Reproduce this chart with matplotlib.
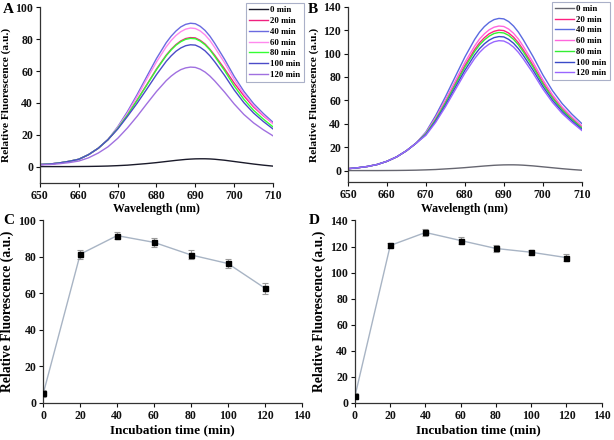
import matplotlib
matplotlib.use("Agg")
import matplotlib.pyplot as plt

plt.rcParams['font.family'] = ['Liberation Serif', 'DejaVu Serif']
plt.rcParams['font.weight'] = 'bold'
plt.rcParams['axes.labelweight'] = 'bold'

# ---------------- data ----------------
wavelength = [650, 652.5, 655, 657.5, 660, 662.5, 665, 667.5, 670, 672.5, 675, 677.5,
              680, 682.5, 683.75, 685, 686.25, 687.5, 688.75, 690, 691.25, 692.5, 693.75,
              695, 697.5, 700, 702.5, 705, 707.5, 710]
series_labels = ['0 min', '20 min', '40 min', '60 min', '80 min', '100 min', '120 min']

# Panel A spectra
a_0 = [0.1, 0.1, 0.1, 0.1, 0.15, 0.2, 0.3, 0.45, 0.7, 1.0, 1.5, 2.0,
       2.6, 3.3, 3.65, 4.0, 4.3, 4.6, 4.8, 4.95, 5.0, 5.0, 4.9,
       4.7, 4.1, 3.3, 2.5, 1.7, 1.0, 0.4]
a_20 = [1.4, 1.7, 2.4, 3.4, 4.7, 7.6, 11.6, 17.0, 24.0, 32.5, 41.8, 51.5,
        61.3, 70.0, 73.6, 76.6, 78.9, 80.4, 81.0, 80.8, 79.3, 77.0, 73.7,
        69.9, 61.5, 52.5, 44.5, 37.5, 32.0, 27.2]
a_40 = [1.4, 1.7, 2.4, 3.4, 4.7, 7.6, 11.6, 17.0, 25.0, 34.5, 45.2, 56.6,
        67.9, 77.8, 81.8, 85.1, 87.7, 89.3, 90.0, 89.7, 88.1, 85.5, 81.9,
        77.4, 67.5, 56.7, 47.3, 39.6, 33.4, 27.9]
a_60 = [1.4, 1.7, 2.4, 3.4, 4.7, 7.6, 11.6, 17.0, 24.6, 33.6, 44.0, 55.0,
        65.7, 75.2, 79.1, 82.3, 84.7, 86.3, 87.0, 86.7, 85.2, 82.7, 79.2,
        74.8, 65.3, 54.8, 45.7, 38.3, 32.3, 27.0]
a_80 = [1.4, 1.7, 2.4, 3.4, 4.7, 7.6, 11.6, 17.0, 24.0, 32.4, 41.6, 51.2,
        60.9, 69.6, 73.2, 76.2, 78.4, 79.9, 80.5, 80.3, 78.8, 76.5, 73.3,
        69.2, 60.4, 50.7, 42.3, 35.4, 29.9, 25.0]
a_100 = [1.4, 1.7, 2.4, 3.4, 4.7, 7.6, 11.6, 17.0, 23.6, 31.5, 39.8, 48.7,
         57.8, 66.1, 69.5, 72.4, 74.5, 75.9, 76.5, 76.3, 74.9, 72.7, 69.6,
         65.8, 57.4, 48.2, 40.2, 33.7, 28.4, 23.7]
a_120 = [1.2, 1.4, 1.9, 2.6, 3.6, 5.6, 8.6, 12.5, 17.8, 24.3, 31.6, 39.5,
         47.2, 54.0, 56.8, 59.1, 60.9, 62.0, 62.5, 62.3, 61.2, 59.4, 56.9,
         53.8, 46.9, 39.4, 32.8, 27.5, 23.2, 19.4]

# Panel B spectra
b_0 = [0.1, 0.1, 0.1, 0.1, 0.15, 0.2, 0.3, 0.45, 0.7, 1.0, 1.5, 2.0,
       2.6, 3.3, 3.65, 4.0, 4.3, 4.6, 4.8, 4.95, 5.0, 5.0, 4.9,
       4.7, 4.1, 3.3, 2.5, 1.7, 1.0, 0.4]
b_20 = [1.7, 2.5, 3.6, 5.3, 8.0, 11.8, 17.0, 23.5, 31.8, 44.3, 58.6, 74.2,
        89.8, 103.4, 109.1, 113.5, 116.9, 119.0, 120.0, 119.6, 117.5, 114.0, 109.2,
        103.2, 90.0, 75.6, 63.0, 52.8, 44.5, 37.2]
b_40 = [1.7, 2.5, 3.6, 5.3, 8.0, 11.8, 17.0, 23.5, 33.0, 47.0, 63.0, 80.0,
        97.0, 112.0, 118.2, 123.0, 126.6, 129.0, 130.0, 129.6, 127.3, 123.5, 118.3,
        111.8, 97.5, 81.9, 68.3, 57.2, 48.2, 40.3]
b_60 = [1.7, 2.5, 3.6, 5.3, 8.0, 11.8, 17.0, 23.5, 32.3, 45.2, 60.2, 76.3,
        92.4, 106.4, 112.3, 116.8, 120.3, 122.5, 123.5, 123.1, 120.9, 117.3, 112.4,
        106.2, 92.6, 77.8, 64.8, 54.3, 45.8, 38.3]
b_80 = [1.7, 2.5, 3.6, 5.3, 8.0, 11.8, 17.0, 23.5, 31.5, 43.6, 57.7, 73.0,
        88.3, 101.7, 107.3, 111.6, 114.9, 117.1, 118.0, 117.6, 115.5, 112.1, 107.4,
        101.5, 88.5, 74.3, 62.0, 51.9, 43.8, 36.6]
b_100 = [1.7, 2.5, 3.6, 5.3, 8.0, 11.8, 17.0, 23.5, 30.8, 42.4, 56.0, 70.9,
         85.7, 98.7, 104.1, 108.3, 111.5, 113.6, 114.5, 114.2, 112.1, 108.8, 104.2,
         98.5, 85.9, 72.1, 60.1, 50.4, 42.5, 35.5]
b_120 = [1.7, 2.5, 3.6, 5.3, 8.0, 11.8, 17.0, 23.5, 30.2, 41.2, 54.4, 68.8,
         83.2, 95.7, 100.9, 105.0, 108.1, 110.1, 111.0, 110.7, 108.7, 105.5, 101.0,
         95.5, 83.3, 69.9, 58.3, 48.8, 41.2, 34.4]

# Panels C and D
time_min = [0, 20, 40, 60, 80, 100, 120]
c_mean = [5.1, 81.5, 91.7, 88.0, 81.1, 76.4, 62.9]
c_err = [2.0, 2.5, 2.0, 2.5, 2.5, 2.5, 3.0]
d_mean = [5.1, 120.8, 130.8, 124.6, 118.5, 115.6, 111.5]
d_err = [2.0, 2.0, 3.0, 2.5, 3.0, 2.0, 3.0]

spec_xticks = [650, 660, 670, 680, 690, 700, 710]
time_xticks = [0, 20, 40, 60, 80, 100, 120, 140]

colors_a = ['#1A1A2A', '#F0207F', '#6A6AE0', '#FF88EE', '#33FF33', '#4B4BC8', '#A070E0']
colors_b = ['#666670', '#FF2080', '#5A6AE0', '#FF66DD', '#33EE33', '#3A4AC8', '#9966FF']

# ---------------- figure ----------------
W, H = 614, 440
fig = plt.figure(figsize=(W / 100, H / 100), dpi=100)

def fx(px):
    return px / W

def fy(py):
    return 1 - py / H

def style_axes(ax, fs=8):
    ax.spines['top'].set_visible(False)
    ax.spines['right'].set_visible(False)
    for s in ('left', 'bottom'):
        ax.spines[s].set_linewidth(0.9)
        ax.spines[s].set_color('#333333')
    ax.tick_params(direction='out', length=3, width=0.8, labelsize=fs, pad=2, colors='#111111')
    for lab in ax.get_xticklabels() + ax.get_yticklabels():
        lab.set_fontweight('bold')

def spectra_panel(rect, data, colors, ymax, yticks, legend_anchor, letter, letter_pos):
    ax = fig.add_axes(rect)
    for y, c, lab in zip(data, colors, series_labels):
        ax.plot(wavelength, y, color=c, lw=1.0, label=lab)
    ax.set_xlim(650, 710)
    ax.set_ylim(-10, ymax)
    ax.set_xticks(spec_xticks)
    ax.set_yticks(yticks)
    style_axes(ax, 8.5)
    ax.set_xlabel('Wavelength (nm)', fontsize=8.5, fontweight='bold', labelpad=1)
    ax.set_ylabel('Relative Fluorescence (a.u.)', fontsize=8.2, fontweight='bold', labelpad=3)
    leg = ax.legend(loc='upper left', bbox_to_anchor=legend_anchor, bbox_transform=fig.transFigure,
                    prop={'family': 'Liberation Serif', 'weight': 'bold', 'size': 6.3},
                    frameon=True, fancybox=False, edgecolor='#AAB0C8', framealpha=1,
                    handlelength=2.2, handletextpad=0.3, labelspacing=0.3, borderpad=0.35,
                    borderaxespad=0)
    leg.get_frame().set_linewidth(0.8)
    fig.text(letter_pos[0], letter_pos[1], letter, fontsize=11, fontweight='bold',
             family='Liberation Serif', va='top', ha='left')
    return ax

spectra_panel([fx(40), fy(182.7), fx(273) - fx(40), fy(7.3) - fy(182.7)],
              [a_0, a_20, a_40, a_60, a_80, a_100, a_120], colors_a, 100,
              [0, 20, 40, 60, 80, 100], (fx(245.5), fy(3.3)), 'A', (fx(3), fy(3)))
spectra_panel([fx(348), fy(182.4), fx(581.7) - fx(348), fy(6.7) - fy(182.4)],
              [b_0, b_20, b_40, b_60, b_80, b_100, b_120], colors_b, 140,
              [0, 20, 40, 60, 80, 100, 120, 140], (fx(551.5), fy(1.7)), 'B', (fx(308), fy(3)))

def time_panel(rect, mean, err, ymax, yticks, letter, letter_pos):
    ax = fig.add_axes(rect)
    ax.plot(time_min, mean, color='#A8B4C4', lw=1.0, zorder=1)
    ax.errorbar(time_min, mean, yerr=err, fmt='none', ecolor='#999999', elinewidth=0.8,
                capsize=2, capthick=0.8, zorder=2)
    ax.plot(time_min, mean, ls='none', marker='s', ms=3.6, color='black', zorder=3)
    ax.set_xlim(0, 140)
    ax.set_ylim(0, ymax)
    ax.set_xticks(time_xticks)
    ax.set_yticks(yticks)
    style_axes(ax, 8.5)
    ax.set_xlabel('Incubation time (min)', fontsize=9.5, fontweight='bold', labelpad=2)
    ax.set_ylabel('Relative Fluorescence (a.u.)', fontsize=9.8, fontweight='bold', labelpad=3)
    fig.text(letter_pos[0], letter_pos[1], letter, fontsize=11, fontweight='bold',
             family='Liberation Serif', va='top', ha='left')
    return ax

time_panel([fx(43.3), fy(402.7), fx(301.7) - fx(43.3), fy(220.5) - fy(402.7)],
           c_mean, c_err, 100, [0, 20, 40, 60, 80, 100], 'C', (fx(3), fy(214)))
time_panel([fx(355), fy(402.7), fx(601.7) - fx(355), fy(220.5) - fy(402.7)],
           d_mean, d_err, 140, [0, 20, 40, 60, 80, 100, 120, 140], 'D', (fx(309), fy(214)))

fig.savefig('out.png', dpi=100)
